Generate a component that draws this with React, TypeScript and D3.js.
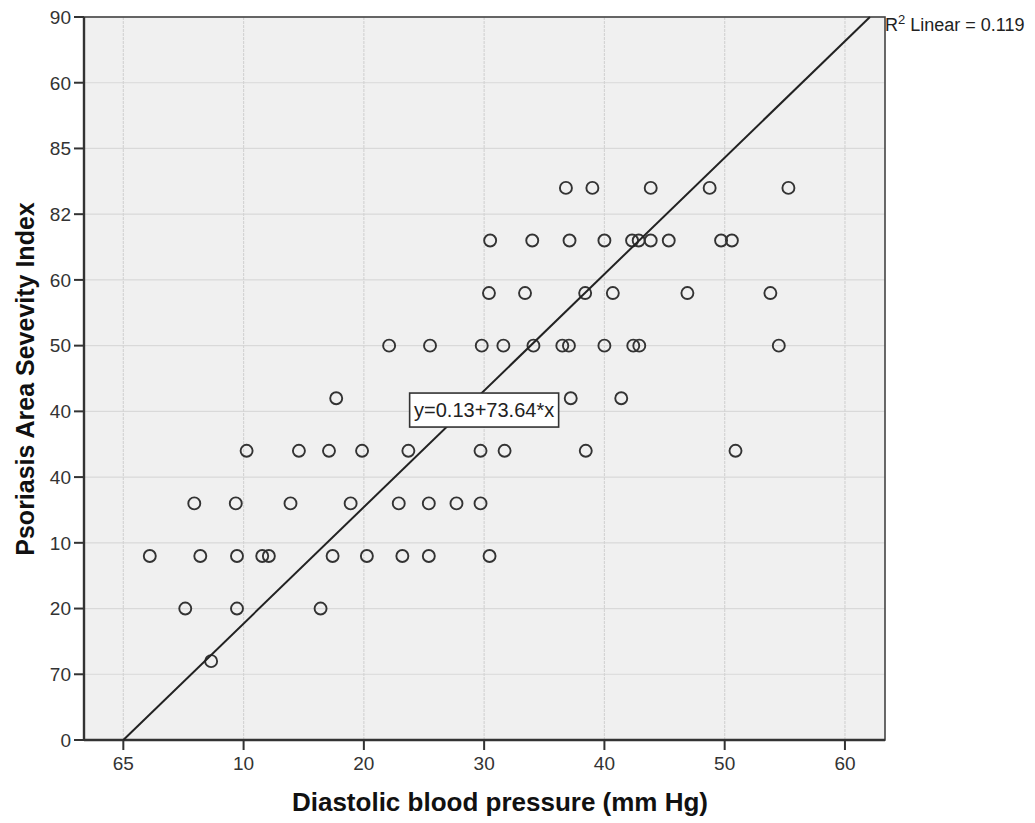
import React from "react";
import * as d3 from "d3";

// Axis ticks (positions in data units) and the labels printed on them
const xTickValues = [0, 10, 20, 30, 40, 50, 60];
const xTickLabels = ["65", "10", "20", "30", "40", "50", "60"];
const yTickValues = [0, 10, 20, 30, 40, 50, 60, 70, 80, 90, 100, 110];
const yTickLabels = ["0", "70", "20", "10", "40", "40", "50", "60", "82", "85", "60", "90"];

// Scatter points: diastolic blood pressure (x) and PASI (y)
const xValues = [
  36.8, 39.0, 43.85, 48.75, 55.3,
  30.5, 34.0, 37.1, 40.0, 42.3, 42.85, 43.85, 45.35, 49.7, 50.6,
  30.4, 33.4, 38.4, 40.7, 46.9, 53.8,
  22.1, 25.5, 29.8, 31.6, 34.1, 36.5, 37.05, 40.0, 42.4, 42.9, 54.5,
  17.7, 37.2, 41.4,
  10.25, 14.6, 17.1, 19.85, 23.7, 29.7, 31.7, 38.45, 50.9,
  5.9, 9.35, 13.9, 18.9, 22.9, 25.4, 27.7, 29.7,
  2.2, 6.4, 9.45, 11.55, 12.1, 17.4, 20.25, 23.2, 25.4, 30.45,
  5.15, 9.45, 16.4,
  7.3,
];
const yValues = [
  84, 84, 84, 84, 84,
  76, 76, 76, 76, 76, 76, 76, 76, 76, 76,
  68, 68, 68, 68, 68, 68,
  60, 60, 60, 60, 60, 60, 60, 60, 60, 60, 60,
  52, 52, 52,
  44, 44, 44, 44, 44, 44, 44, 44, 44,
  36, 36, 36, 36, 36, 36, 36, 36,
  28, 28, 28, 28, 28, 28, 28, 28, 28, 28,
  20, 20, 20,
  12,
];

// Fitted line
const fitIntercept = 0;
const fitSlope = 1.772;
const fitLabel = "y=0.13+73.64*x";
const fitLabelAt = [30.0, 50.2];
const r2Label = "Linear = 0.119";

const xTitle = "Diastolic blood pressure (mm Hg)";
const yTitle = "Psoriasis Area Sevevity Index";

const W = 1035;
const H = 823;
const plot = { left: 84, right: 885, top: 17, bottom: 740 };
const FONT = "Arial, 'Liberation Sans', Helvetica, sans-serif";

export default function App() {
  const x = d3.scaleLinear().domain([-3.27, 63.33]).range([plot.left, plot.right]);
  const y = d3.scaleLinear().domain([0, 110]).range([plot.bottom, plot.top]);

  const [xd0, xd1] = x.domain();
  const [yd0, yd1] = y.domain();
  const lx0 = Math.max(xd0, (yd0 - fitIntercept) / fitSlope);
  const lx1 = Math.min(xd1, (yd1 - fitIntercept) / fitSlope);
  const linePath = d3.line<number>()
    .x((d) => x(d))
    .y((d) => y(fitIntercept + fitSlope * d))([lx0, lx1]);

  const points = xValues.map((v, i) => [v, yValues[i]]);
  const lbx = x(fitLabelAt[0]);
  const lby = y(fitLabelAt[1]);
  const boxW = 149;
  const boxH = 34;

  return (
    <svg
      width={W}
      height={H}
      style={{ position: "absolute", left: 0, top: 0, background: "#fff" }}
      fontFamily={FONT}
    >
      <rect x={plot.left} y={plot.top} width={plot.right - plot.left} height={plot.bottom - plot.top} fill="#f0f0f0" />
      {yTickValues.map((t) => (
        <line key={"gy" + t} x1={plot.left} x2={plot.right} y1={y(t)} y2={y(t)} stroke="#d9d9d9" strokeWidth={1.2} />
      ))}
      {xTickValues.map((t) => (
        <line key={"gx" + t} x1={x(t)} x2={x(t)} y1={plot.top} y2={plot.bottom} stroke="#d4d4d4" strokeWidth={1.2} strokeDasharray="3,1" />
      ))}
      <rect x={plot.left} y={plot.top} width={plot.right - plot.left} height={plot.bottom - plot.top} fill="none" stroke="#444" strokeWidth={1.6} />
      <line x1={plot.left} x2={plot.left} y1={plot.top} y2={plot.bottom} stroke="#333" strokeWidth={2.4} />
      <line x1={plot.left} x2={plot.right} y1={plot.bottom} y2={plot.bottom} stroke="#333" strokeWidth={2.4} />
      {yTickValues.map((t, i) => (
        <g key={"ty" + t}>
          <line x1={plot.left - 10} x2={plot.left} y1={y(t)} y2={y(t)} stroke="#333" strokeWidth={2} />
          <text x={plot.left - 13} y={y(t)} dy="0.36em" textAnchor="end" fontSize={19} fill="#333">
            {yTickLabels[i]}
          </text>
        </g>
      ))}
      {xTickValues.map((t, i) => (
        <g key={"tx" + t}>
          <line x1={x(t)} x2={x(t)} y1={plot.bottom} y2={plot.bottom + 10} stroke="#333" strokeWidth={2} />
          <text x={x(t)} y={770} textAnchor="middle" fontSize={19} fill="#333">
            {xTickLabels[i]}
          </text>
        </g>
      ))}
      {points.map((p, i) => (
        <circle key={"p" + i} cx={x(p[0])} cy={y(p[1])} r={6} fill="none" stroke="#333" strokeWidth={1.9} />
      ))}
      <path d={linePath || ""} fill="none" stroke="#222" strokeWidth={2} />
      <rect x={lbx - boxW / 2} y={lby - boxH / 2} width={boxW} height={boxH} fill="#fff" stroke="#333" strokeWidth={1.6} />
      <text x={lbx} y={lby} dy="0.36em" textAnchor="middle" fontSize={20} fill="#222">
        {fitLabel}
      </text>
      <text x={plot.right} y={31} fontSize={18} fill="#222">
        R<tspan dy={-7} fontSize={13}>2</tspan>
        <tspan dy={7}>{" " + r2Label}</tspan>
      </text>
      <text x={500} y={811} textAnchor="middle" fontSize={26} fontWeight="bold" fill="#111">
        {xTitle}
      </text>
      <text transform={`translate(34,379) rotate(-90)`} textAnchor="middle" fontSize={25} fontWeight="bold" fill="#111">
        {yTitle}
      </text>
    </svg>
  );
}
